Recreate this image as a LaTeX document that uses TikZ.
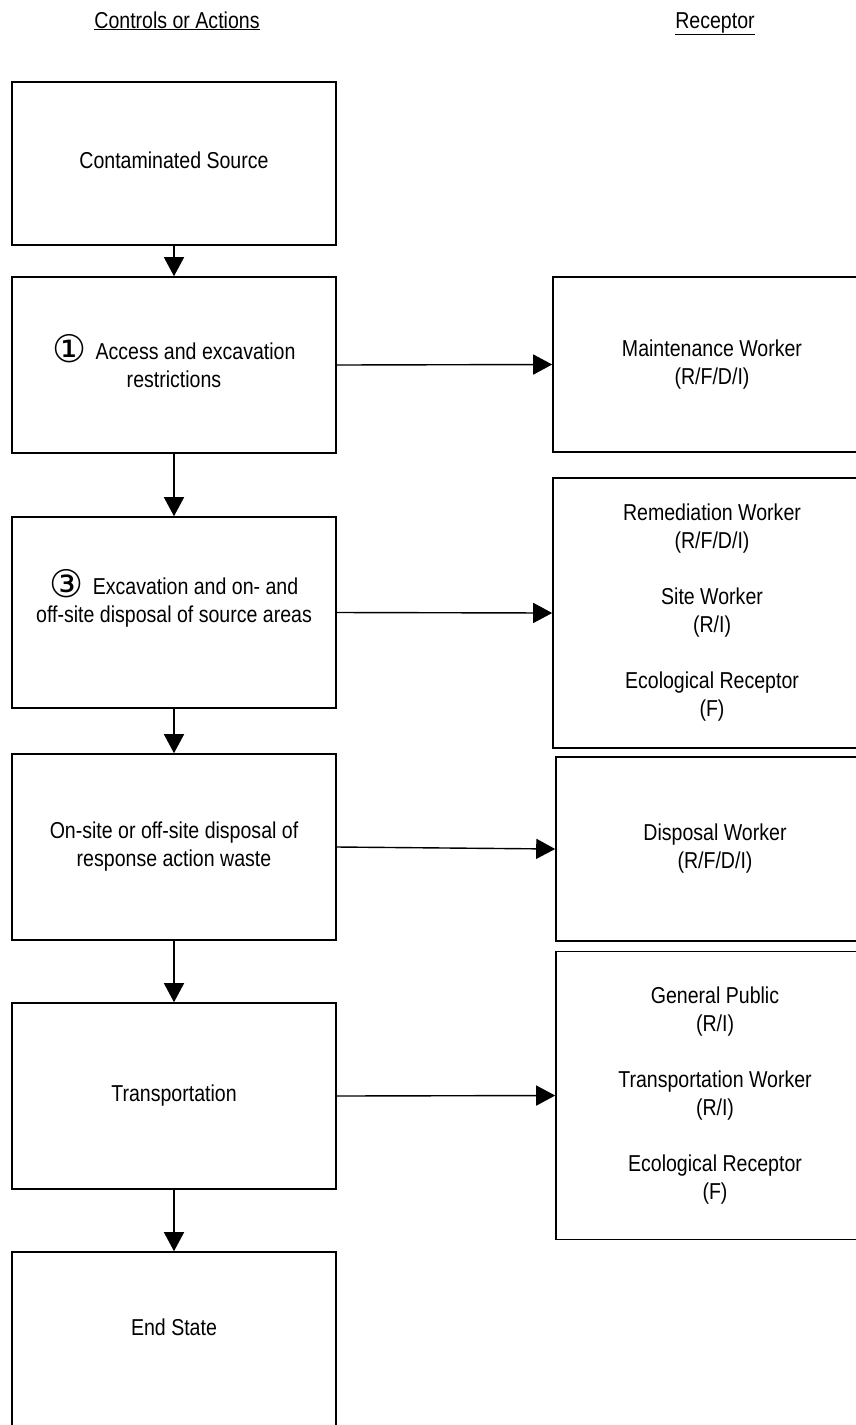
\documentclass[tikz,border=0pt]{standalone}
\usepackage{fontspec}
\setmainfont{Liberation Sans}[FakeStretch=0.85]
\newfontfamily\circfont{DejaVu Sans}
\usetikzlibrary{arrows.meta}
\newcommand{\circnum}[1]{\raisebox{-3pt}{\circfont\fontsize{38}{28}\selectfont #1}}
\begin{document}
\begin{tikzpicture}[x=1pt,y=-1pt,
  box/.style={draw, line width=1.6pt, minimum width=324pt, minimum height=#1, inner sep=0pt, align=center, font=\fontsize{23}{28}\selectfont},
  rbox/.style={draw, line width=1.6pt, minimum width=318pt, minimum height=#1, inner sep=0pt, align=center, font=\fontsize{23}{28}\selectfont},
  txt/.style={inner sep=0pt, align=center, font=\fontsize{23}{28}\selectfont},
  arr/.style={line width=1.4pt, -{Triangle[length=19pt,width=20pt]}}]
\clip (0,0) rectangle (856,1425);
\fill[white] (0,0) rectangle (856,1425);
% headers
\node[txt, anchor=base] (h1) at (177,28) {\underline{Controls or Actions}};
\node[txt, anchor=base] (h2) at (715,28) {\underline{Receptor}};
% left column
\node[box=163pt] (b1) at (174,163.5) {\raisebox{6pt}{Contaminated Source}};
\node[box=176pt] (b2) at (174,365) {};
\node[txt] (t2) at (174,361) {\circnum{①}\hspace{9pt}Access and excavation\\restrictions};
\node[box=191pt] (b3) at (174,612.5) {};
\node[txt] (t3) at (174,598) {\circnum{③}\hspace{9pt}Excavation and on- and\\off-site disposal of source areas};
\node[box=186pt] (b4) at (174,847) {On-site or off-site disposal of\\response action waste};
\node[box=186pt] (b5) at (174,1096) {Transportation};
\node[box=186pt] (b6) at (174,1345) {};
\node[txt] (t6) at (174,1327) {End State};
% right column
\node[rbox=175pt] (r1) at (712,364.5) {Maintenance Worker\\(R/F/D/I)};
\node[rbox=270pt] (r2) at (712,613) {Remediation Worker\\(R/F/D/I)\\[28pt]Site Worker\\(R/I)\\[28pt]Ecological Receptor\\(F)};
\node[rbox=184pt] (r3) at (715,849) {Disposal Worker\\(R/F/D/I)};
\node[rbox=288pt] (r4) at (715,1095.5) {General Public\\(R/I)\\[28pt]Transportation Worker\\(R/I)\\[28pt]Ecological Receptor\\(F)};
% vertical arrows
\draw[arr] (b1.south) -- (b2.north);
\draw[arr] (b2.south) -- (b3.north);
\draw[arr] (b3.south) -- (b4.north);
\draw[arr] (b4.south) -- (b5.north);
\draw[arr] (b5.south) -- (b6.north);
% horizontal arrows
\draw[arr] (b2.east) -- (r1.west);
\draw[arr] (b3.east) -- (r2.west);
\draw[arr] (b4.east) -- (r3.west);
\draw[arr] (b5.east) -- (r4.west);
\end{tikzpicture}
\end{document}
